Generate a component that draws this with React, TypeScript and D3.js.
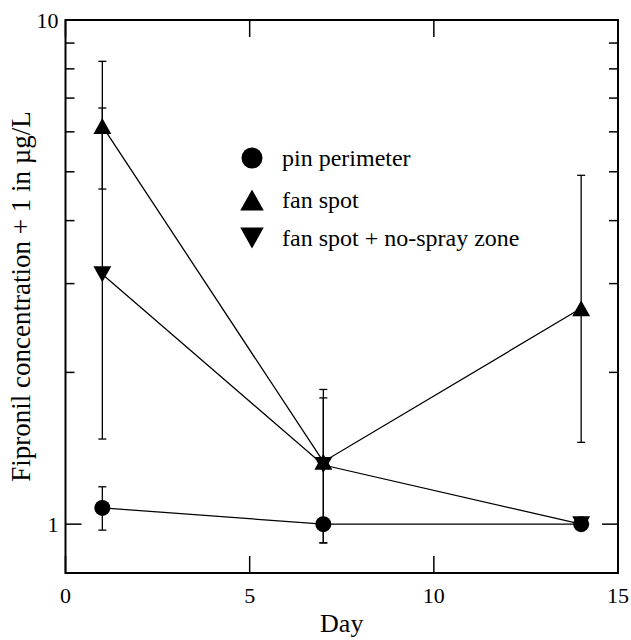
import { useRef, useEffect } from "react";
import * as d3 from "d3";

const FONT = "'Liberation Serif', 'Times New Roman', serif";

// data (concentration + 1, µg/L)
const DAYS = [1, 7, 14];

const PIN = [1.077, 1.0, 1.0];
const PIN_LO: (number | null)[] = [0.973, null, null];
const PIN_HI: (number | null)[] = [1.186, null, null];

const FAN = [6.16, 1.33, 2.68];
const FAN_LO: (number | null)[] = [4.62, 0.918, 1.453];
const FAN_HI: (number | null)[] = [8.28, 1.85, 4.92];

const NOSPRAY = [3.13, 1.31, 1.0];
const NOSPRAY_LO: (number | null)[] = [1.475, 0.918, null];
const NOSPRAY_HI: (number | null)[] = [6.69, 1.78, null];

const X_TICKS = [0, 5, 10, 15];
const Y_MAJOR = [1, 10];
const Y_MINOR = [2, 3, 4, 5, 6, 7, 8, 9];

const LEGEND = ["pin perimeter", "fan spot", "fan spot + no-spray zone"];

type Shape = "circle" | "up" | "down";

export default function App() {
  const ref = useRef<SVGSVGElement>(null);

  useEffect(() => {
    if (!ref.current) return;
    const svg = d3.select(ref.current);
    svg.selectAll("*").remove();

    const W = 631, H = 640;
    const mg = { l: 65.5, r: 13, t: 20, b: 67 };

    const x = d3.scaleLinear().domain([0, 15]).range([mg.l, W - mg.r]);
    const y = d3.scaleLog().domain([0.8, 10]).range([H - mg.b, mg.t]);

    const x0 = mg.l, x1 = W - mg.r, y0 = H - mg.b, y1 = mg.t;

    // marker shapes
    const marker = (g: d3.Selection<SVGGElement, unknown, null, undefined>, shape: Shape, cx: number, cy: number, s: number) => {
      if (shape === "circle") {
        g.append("circle").attr("cx", cx).attr("cy", cy).attr("r", s / 2).attr("fill", "#000");
      } else {
        const w = s * 1.12, h = s;
        const pts = shape === "up"
          ? [[cx, cy - h / 2], [cx + w / 2, cy + h / 2], [cx - w / 2, cy + h / 2]]
          : [[cx, cy + h / 2], [cx + w / 2, cy - h / 2], [cx - w / 2, cy - h / 2]];
        g.append("path").attr("d", "M" + pts.map((p) => p.join(",")).join("L") + "Z").attr("fill", "#000");
      }
    };

    const series = [
      { v: PIN, lo: PIN_LO, hi: PIN_HI, shape: "circle" as Shape },
      { v: FAN, lo: FAN_LO, hi: FAN_HI, shape: "up" as Shape },
      { v: NOSPRAY, lo: NOSPRAY_LO, hi: NOSPRAY_HI, shape: "down" as Shape },
    ];

    const plot = svg.append("g");

    // connecting lines
    series.forEach((s) => {
      plot.append("path")
        .datum(DAYS.map((d, i) => [d, s.v[i]] as [number, number]))
        .attr("d", d3.line<[number, number]>().x((d) => x(d[0])).y((d) => y(d[1])))
        .attr("fill", "none").attr("stroke", "#000").attr("stroke-width", 1.3);
    });

    // error bars
    series.forEach((s) => {
      DAYS.forEach((d, i) => {
        const lo = s.lo[i], hi = s.hi[i];
        if (lo == null || hi == null) return;
        const cx = x(d);
        plot.append("line")
          .attr("x1", cx).attr("x2", cx).attr("y1", y(lo)).attr("y2", y(hi))
          .attr("stroke", "#000").attr("stroke-width", 1.3);
        [lo, hi].forEach((v) => {
          plot.append("line")
            .attr("x1", cx - 4).attr("x2", cx + 4).attr("y1", y(v)).attr("y2", y(v))
            .attr("stroke", "#000").attr("stroke-width", 1.3);
        });
      });
    });

    // markers
    series.forEach((s) => {
      DAYS.forEach((d, i) => marker(plot, s.shape, x(d), y(s.v[i]), 16));
    });

    // frame
    svg.append("rect")
      .attr("x", x0).attr("y", y1).attr("width", x1 - x0).attr("height", y0 - y1)
      .attr("fill", "none").attr("stroke", "#000").attr("stroke-width", 2);

    // x ticks (top and bottom, inward)
    X_TICKS.forEach((t) => {
      svg.append("line").attr("x1", x(t)).attr("x2", x(t)).attr("y1", y0).attr("y2", y0 - 17)
        .attr("stroke", "#000").attr("stroke-width", 1.5);
      svg.append("line").attr("x1", x(t)).attr("x2", x(t)).attr("y1", y1).attr("y2", y1 + 17)
        .attr("stroke", "#000").attr("stroke-width", 1.5);
      svg.append("text")
        .attr("x", x(t)).attr("y", y0 + 30)
        .attr("text-anchor", "middle")
        .attr("font-family", FONT).attr("font-size", "22px").attr("fill", "#000")
        .text(String(t));
    });

    // y ticks (left and right, inward)
    Y_MAJOR.forEach((t) => {
      svg.append("line").attr("x1", x0).attr("x2", x0 + 16).attr("y1", y(t)).attr("y2", y(t))
        .attr("stroke", "#000").attr("stroke-width", 1.5);
      svg.append("line").attr("x1", x1).attr("x2", x1 - 16).attr("y1", y(t)).attr("y2", y(t))
        .attr("stroke", "#000").attr("stroke-width", 1.5);
      svg.append("text")
        .attr("x", x0 - 7).attr("y", y(t) + 7.5)
        .attr("text-anchor", "end")
        .attr("font-family", FONT).attr("font-size", "22px").attr("fill", "#000")
        .text(String(t));
    });
    Y_MINOR.forEach((t) => {
      svg.append("line").attr("x1", x0).attr("x2", x0 + 9).attr("y1", y(t)).attr("y2", y(t))
        .attr("stroke", "#000").attr("stroke-width", 1.5);
      svg.append("line").attr("x1", x1).attr("x2", x1 - 9).attr("y1", y(t)).attr("y2", y(t))
        .attr("stroke", "#000").attr("stroke-width", 1.5);
    });

    // axis titles
    svg.append("text")
      .attr("x", (x0 + x1) / 2).attr("y", 632)
      .attr("text-anchor", "middle")
      .attr("font-family", FONT).attr("font-size", "26px").attr("fill", "#000")
      .text("Day");

    svg.append("text")
      .attr("transform", `translate(30,${(y0 + y1) / 2}) rotate(-90)`)
      .attr("text-anchor", "middle")
      .attr("font-family", FONT).attr("font-size", "27px").attr("fill", "#000")
      .text("Fipronil concentration + 1 in µg/L");

    // legend
    const lg = svg.append("g");
    const lx = 252, lys = [158, 200, 238];
    (["circle", "up", "down"] as Shape[]).forEach((sh, i) => {
      marker(lg, sh, lx, lys[i], 21);
      lg.append("text")
        .attr("x", 282).attr("y", lys[i] + 8)
        .attr("font-family", FONT).attr("font-size", "24px").attr("fill", "#000")
        .text(LEGEND[i]);
    });
  }, []);

  return (
    <div style={{ position: "absolute", left: 0, top: 0 }}>
      <svg ref={ref} width={631} height={640} style={{ display: "block", background: "#fff" }} />
    </div>
  );
}
